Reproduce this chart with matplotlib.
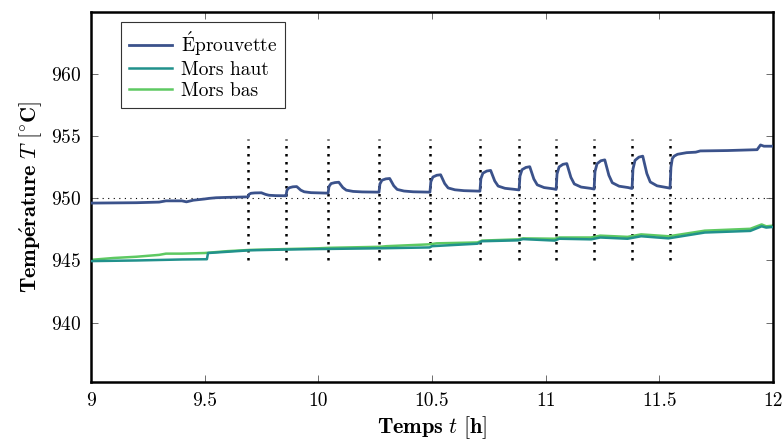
import matplotlib
matplotlib.use("Agg")
import matplotlib.pyplot as plt

plt.rcParams["font.family"] = "serif"
plt.rcParams["font.serif"] = ["cmr10"]
plt.rcParams["mathtext.fontset"] = "cm"
plt.rcParams["axes.formatter.use_mathtext"] = True

# couleurs (viridis)
C_EPROUVETTE = "#3b528b"
C_HAUT = "#21918c"
C_BAS = "#5ec962"

# ----------------------------------------------------------------------------
# DONNÉES
# ----------------------------------------------------------------------------
t_eprouvette = [
    9.0, 9.2, 9.3, 9.33, 9.4, 9.42, 9.45, 9.5, 9.52, 9.55, 9.6, 9.689,
    9.691, 9.695, 9.704, 9.721, 9.75, 9.755, 9.768, 9.783, 9.813, 9.853, 9.856,
    9.858, 9.862, 9.871, 9.888, 9.905, 9.91, 9.923, 9.938, 9.968, 10.008, 10.041,
    10.043, 10.047, 10.056, 10.073, 10.09, 10.095, 10.108, 10.123, 10.153, 10.193, 10.265,
    10.267, 10.271, 10.28, 10.297, 10.314, 10.319, 10.332, 10.347, 10.377, 10.417, 10.489,
    10.491, 10.495, 10.504, 10.521, 10.538, 10.543, 10.556, 10.571, 10.601, 10.641, 10.709,
    10.711, 10.715, 10.724, 10.741, 10.758, 10.763, 10.776, 10.791, 10.821, 10.861, 10.881,
    10.883, 10.887, 10.896, 10.913, 10.93, 10.935, 10.948, 10.963, 10.993, 11.033, 11.044,
    11.046, 11.05, 11.059, 11.076, 11.093, 11.098, 11.111, 11.126, 11.156, 11.196, 11.211,
    11.213, 11.217, 11.226, 11.243, 11.26, 11.265, 11.278, 11.293, 11.323, 11.363, 11.378,
    11.38, 11.384, 11.393, 11.41, 11.427, 11.432, 11.445, 11.46, 11.49, 11.53, 11.545,
    11.547, 11.551, 11.557, 11.565, 11.58, 11.62, 11.66, 11.68, 11.8, 11.93, 11.945, 11.96, 12.0,
]
T_eprouvette = [
    949.62, 949.65, 949.7, 949.8, 949.8, 949.72, 949.85, 949.95, 950.0, 950.05, 950.08, 950.12,
    950.12, 950.32, 950.41, 950.44, 950.45, 950.41, 950.32, 950.25, 950.22, 950.21, 950.2,
    950.2, 950.65, 950.85, 950.93, 950.95, 950.87, 950.66, 950.53, 950.46, 950.44, 950.42,
    950.42, 950.95, 951.19, 951.27, 951.3, 951.18, 950.87, 950.66, 950.56, 950.52, 950.5,
    950.5, 951.16, 951.46, 951.57, 951.6, 951.44, 951.01, 950.72, 950.59, 950.53, 950.5,
    950.5, 951.34, 951.72, 951.86, 951.9, 951.7, 951.19, 950.84, 950.69, 950.62, 950.58,
    950.58, 951.58, 952.03, 952.2, 952.25, 952.01, 951.4, 950.99, 950.81, 950.73, 950.68,
    950.68, 951.8, 952.31, 952.49, 952.55, 952.28, 951.56, 951.09, 950.87, 950.77, 950.72,
    950.72, 951.97, 952.53, 952.74, 952.8, 952.49, 951.69, 951.16, 950.91, 950.81, 950.75,
    950.75, 952.16, 952.79, 953.03, 953.1, 952.76, 951.86, 951.26, 950.98, 950.87, 950.8,
    950.8, 952.36, 953.06, 953.32, 953.4, 953.01, 952.0, 951.32, 951.01, 950.88, 950.82,
    950.82, 952.5, 953.2, 953.4, 953.55, 953.68, 953.72, 953.82, 953.85, 953.92, 954.3, 954.2, 954.2,
]

t_bas = [
    9.0, 9.1, 9.2, 9.3, 9.33, 9.4, 9.5, 9.6, 9.7, 9.86, 10.0, 10.05, 10.27, 10.3,
    10.49, 10.52, 10.7, 10.72, 10.88, 10.9, 11.04, 11.06, 11.2, 11.24, 11.36,
    11.42, 11.54, 11.56, 11.7, 11.9, 11.95, 11.97, 12.0,
]
T_bas = [
    945.05, 945.2, 945.3, 945.45, 945.55, 945.55, 945.6, 945.75, 945.85, 945.92, 945.98, 946.02, 946.1, 946.15,
    946.3, 946.38, 946.45, 946.6, 946.7, 946.78, 946.75, 946.85, 946.85, 947.0, 946.9,
    947.1, 946.95, 947.0, 947.4, 947.55, 947.9, 947.75, 947.8,
]

t_haut = [
    9.0, 9.2, 9.4, 9.51, 9.515, 9.6, 9.7, 9.86, 10.0, 10.27, 10.49, 10.5, 10.7,
    10.72, 10.88, 10.9, 11.04, 11.06, 11.2, 11.24, 11.36, 11.42, 11.54, 11.7,
    11.9, 11.95, 11.97, 12.0,
]
T_haut = [
    944.95, 945.0, 945.08, 945.1, 945.6, 945.7, 945.82, 945.88, 945.92, 945.98, 946.05, 946.15, 946.35,
    946.55, 946.62, 946.72, 946.6, 946.75, 946.7, 946.85, 946.75, 946.95, 946.78, 947.25,
    947.38, 947.75, 947.65, 947.7,
]

# instants des échelons (lignes pointillées)
t_echelons = [9.691, 9.858, 10.043, 10.267, 10.491, 10.711, 10.883, 11.046, 11.213, 11.380, 11.547]
T_consigne = 950


def main() -> None:
    fig = plt.figure(figsize=(7.84, 4.47), dpi=100)
    ax = fig.add_axes([0.116, 0.145, 0.870, 0.828])

    ax.axhline(T_consigne, color="black", lw=0.8, ls=(0, (1, 4)), zorder=1)
    ax.vlines(t_echelons, 945, 954.8, colors="black", lw=1.8, linestyles=(0, (1, 2.2)), zorder=1)

    ax.plot(t_eprouvette, T_eprouvette, color=C_EPROUVETTE, lw=2.0, label=r"$\mathrm{\acute{E}prouvette}$", zorder=3)
    ax.plot(t_haut, T_haut, color=C_HAUT, lw=1.8, label="Mors haut", zorder=3)
    ax.plot(t_bas, T_bas, color=C_BAS, lw=1.8, label="Mors bas", zorder=2)

    ax.set_xlim(9, 12)
    ax.set_ylim(935.2, 965)
    ax.set_xticks([9, 9.5, 10, 10.5, 11, 11.5, 12])
    ax.set_xticklabels(["9", "9.5", "10", "10.5", "11", "11.5", "12"])
    ax.set_yticks([940, 945, 950, 955, 960])

    ax.tick_params(direction="in", length=5, width=0.6, color="#555555", labelsize=14,
                   top=True, right=True, pad=7)
    for sp in ax.spines.values():
        sp.set_linewidth(1.8)

    ax.set_xlabel(r"$\mathbf{Temps}\ t\ \mathbf{[h]}$", fontsize=16, labelpad=3)
    ax.set_ylabel(r"$\mathbf{Temp\acute{e}rature}\ T\ \mathbf{[}^{\circ}\mathbf{C]}$", fontsize=16, labelpad=5)

    leg = ax.legend(loc="upper left", bbox_to_anchor=(0.044, 0.973), borderaxespad=0,
                    fancybox=False, edgecolor="#333333", framealpha=1, fontsize=14,
                    handlelength=2.2, handletextpad=0.5, labelspacing=0.15, borderpad=0.4)
    leg.get_frame().set_linewidth(0.8)

    fig.savefig("out.png", dpi=100)
    plt.close(fig)


if __name__ == "__main__":
    main()
